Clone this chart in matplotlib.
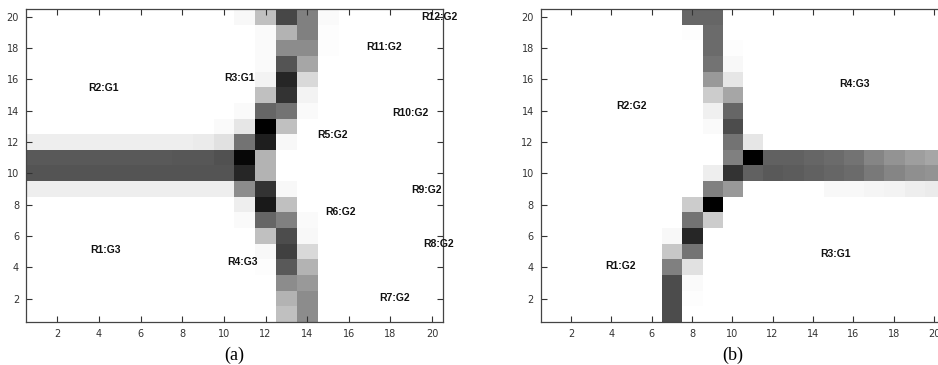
import numpy as np
import matplotlib
matplotlib.use('Agg')
import matplotlib.pyplot as plt

W = 1.0  # white background cell

# panel (a): grey levels, first list = top row (y=20), columns x=1..20
grid_a = [
    [W, W, W, W, W, W, W, W, W, W, 0.97, 0.75, 0.28, 0.50, 0.98, W, W, W, W, W],
    [W, W, W, W, W, W, W, W, W, W, W, 0.98, 0.70, 0.50, 0.99, W, W, W, W, W],
    [W, W, W, W, W, W, W, W, W, W, W, 0.98, 0.55, 0.55, 0.99, W, W, W, W, W],
    [W, W, W, W, W, W, W, W, W, W, W, 0.98, 0.33, 0.65, W, W, W, W, W, W],
    [W, W, W, W, W, W, W, W, W, W, W, 0.95, 0.15, 0.85, W, W, W, W, W, W],
    [W, W, W, W, W, W, W, W, W, W, W, 0.75, 0.20, 0.95, W, W, W, W, W, W],
    [W, W, W, W, W, W, W, W, W, W, 0.98, 0.40, 0.45, 0.98, W, W, W, W, W, W],
    [W, W, W, W, W, W, W, W, W, 0.98, 0.90, 0.00, 0.75, W, W, W, W, W, W, W],
    [0.93, 0.93, 0.93, 0.93, 0.93, 0.93, 0.93, 0.93, 0.92, 0.88, 0.45, 0.12, 0.97, W, W, W, W, W, W, W],
    [0.35, 0.35, 0.35, 0.35, 0.35, 0.35, 0.35, 0.34, 0.34, 0.32, 0.03, 0.70, W, W, W, W, W, W, W, W],
    [0.33, 0.33, 0.33, 0.33, 0.33, 0.33, 0.33, 0.33, 0.33, 0.33, 0.15, 0.70, W, W, W, W, W, W, W, W],
    [0.93, 0.93, 0.93, 0.93, 0.93, 0.93, 0.93, 0.93, 0.93, 0.93, 0.55, 0.20, 0.97, W, W, W, W, W, W, W],
    [W, W, W, W, W, W, W, W, W, W, 0.93, 0.10, 0.75, W, W, W, W, W, W, W],
    [W, W, W, W, W, W, W, W, W, W, 0.98, 0.40, 0.50, 0.98, W, W, W, W, W, W],
    [W, W, W, W, W, W, W, W, W, W, W, 0.75, 0.30, 0.97, W, W, W, W, W, W],
    [W, W, W, W, W, W, W, W, W, W, W, 0.97, 0.25, 0.85, W, W, W, W, W, W],
    [W, W, W, W, W, W, W, W, W, W, W, 0.99, 0.35, 0.70, W, W, W, W, W, W],
    [W, W, W, W, W, W, W, W, W, W, W, W, 0.55, 0.60, W, W, W, W, W, W],
    [W, W, W, W, W, W, W, W, W, W, W, W, 0.70, 0.55, W, W, W, W, W, W],
    [W, W, W, W, W, W, W, W, W, W, W, W, 0.75, 0.55, W, W, W, W, W, W],
]

# panel (b)
grid_b = [
    [W, W, W, W, W, W, W, 0.40, 0.40, W, W, W, W, W, W, W, W, W, W, W],
    [W, W, W, W, W, W, W, 0.99, 0.42, W, W, W, W, W, W, W, W, W, W, W],
    [W, W, W, W, W, W, W, W, 0.42, 0.99, W, W, W, W, W, W, W, W, W, W],
    [W, W, W, W, W, W, W, W, 0.45, 0.97, W, W, W, W, W, W, W, W, W, W],
    [W, W, W, W, W, W, W, W, 0.60, 0.90, W, W, W, W, W, W, W, W, W, W],
    [W, W, W, W, W, W, W, W, 0.80, 0.65, W, W, W, W, W, W, W, W, W, W],
    [W, W, W, W, W, W, W, W, 0.94, 0.40, W, W, W, W, W, W, W, W, W, W],
    [W, W, W, W, W, W, W, W, 0.98, 0.30, W, W, W, W, W, W, W, W, W, W],
    [W, W, W, W, W, W, W, W, W, 0.45, 0.90, W, W, W, W, W, W, W, W, W],
    [W, W, W, W, W, W, W, W, W, 0.50, 0.00, 0.38, 0.38, 0.40, 0.42, 0.45, 0.52, 0.58, 0.62, 0.65],
    [W, W, W, W, W, W, W, W, 0.93, 0.20, 0.38, 0.35, 0.36, 0.38, 0.40, 0.42, 0.48, 0.52, 0.56, 0.58],
    [W, W, W, W, W, W, W, W, 0.50, 0.60, W, W, W, W, 0.97, 0.97, 0.96, 0.95, 0.93, 0.92],
    [W, W, W, W, W, W, W, 0.80, 0.00, W, W, W, W, W, W, W, W, W, W, W],
    [W, W, W, W, W, W, W, 0.45, 0.80, W, W, W, W, W, W, W, W, W, W, W],
    [W, W, W, W, W, W, 0.97, 0.15, W, W, W, W, W, W, W, W, W, W, W, W],
    [W, W, W, W, W, W, 0.78, 0.45, W, W, W, W, W, W, W, W, W, W, W, W],
    [W, W, W, W, W, W, 0.50, 0.88, W, W, W, W, W, W, W, W, W, W, W, W],
    [W, W, W, W, W, W, 0.30, 0.98, W, W, W, W, W, W, W, W, W, W, W, W],
    [W, W, W, W, W, W, 0.30, 0.99, W, W, W, W, W, W, W, W, W, W, W, W],
    [W, W, W, W, W, W, 0.30, W, W, W, W, W, W, W, W, W, W, W, W, W],
]

# region labels (x, y, text), left aligned like matlab text()
labels_a = [
    (3.5, 15.45, 'R2:G1'), (10.0, 16.1, 'R3:G1'), (19.5, 20.0, 'R12:G2'),
    (16.85, 18.1, 'R11:G2'), (18.1, 13.85, 'R10:G2'), (14.5, 12.45, 'R5:G2'),
    (19.0, 8.93, 'R9:G2'), (14.85, 7.53, 'R6:G2'), (19.55, 5.48, 'R8:G2'),
    (10.15, 4.33, 'R4:G3'), (17.45, 2.03, 'R7:G2'), (3.6, 5.1, 'R1:G3'),
]
labels_b = [
    (4.25, 14.3, 'R2:G2'), (15.3, 15.7, 'R4:G3'),
    (3.7, 4.08, 'R1:G2'), (14.35, 4.85, 'R3:G1'),
]
captions = [(10.5, '(a)'), (10.0, '(b)')]
ticks = [2, 4, 6, 8, 10, 12, 14, 16, 18, 20]

fig = plt.figure(figsize=(9.38, 3.65), dpi=100)
ax_a = fig.add_axes([0.0277, 0.1178, 0.4441, 0.8575])
ax_b = fig.add_axes([0.5764, 0.1178, 0.4301, 0.8575])

for ax, grid, labels, cap in [(ax_a, grid_a, labels_a, captions[0]),
                              (ax_b, grid_b, labels_b, captions[1])]:
    ax.imshow(np.array(grid), cmap='gray', vmin=0, vmax=1, origin='upper',
              extent=[0.5, 20.5, 0.5, 20.5], aspect='auto', interpolation='nearest')
    ax.set_xlim(0.5, 20.5)
    ax.set_ylim(0.5, 20.5)
    ax.set_xticks(ticks)
    ax.set_yticks(ticks)
    ax.tick_params(direction='in', top=True, right=True, length=4, width=0.8,
                   labelsize=7, colors='#333333', pad=5)
    for s in ax.spines.values():
        s.set_color('#444444')
        s.set_linewidth(0.9)
    for x, y, t in labels:
        ax.text(x, y, t, ha='left', va='center', fontsize=7.5, fontweight='bold',
                family='Liberation Sans', color='#111111')
    ax.text(cap[0], -0.105, cap[1], transform=ax.get_xaxis_transform(),
            ha='center', va='center', fontsize=13, family='Liberation Serif')

fig.savefig('out.png', dpi=100)
